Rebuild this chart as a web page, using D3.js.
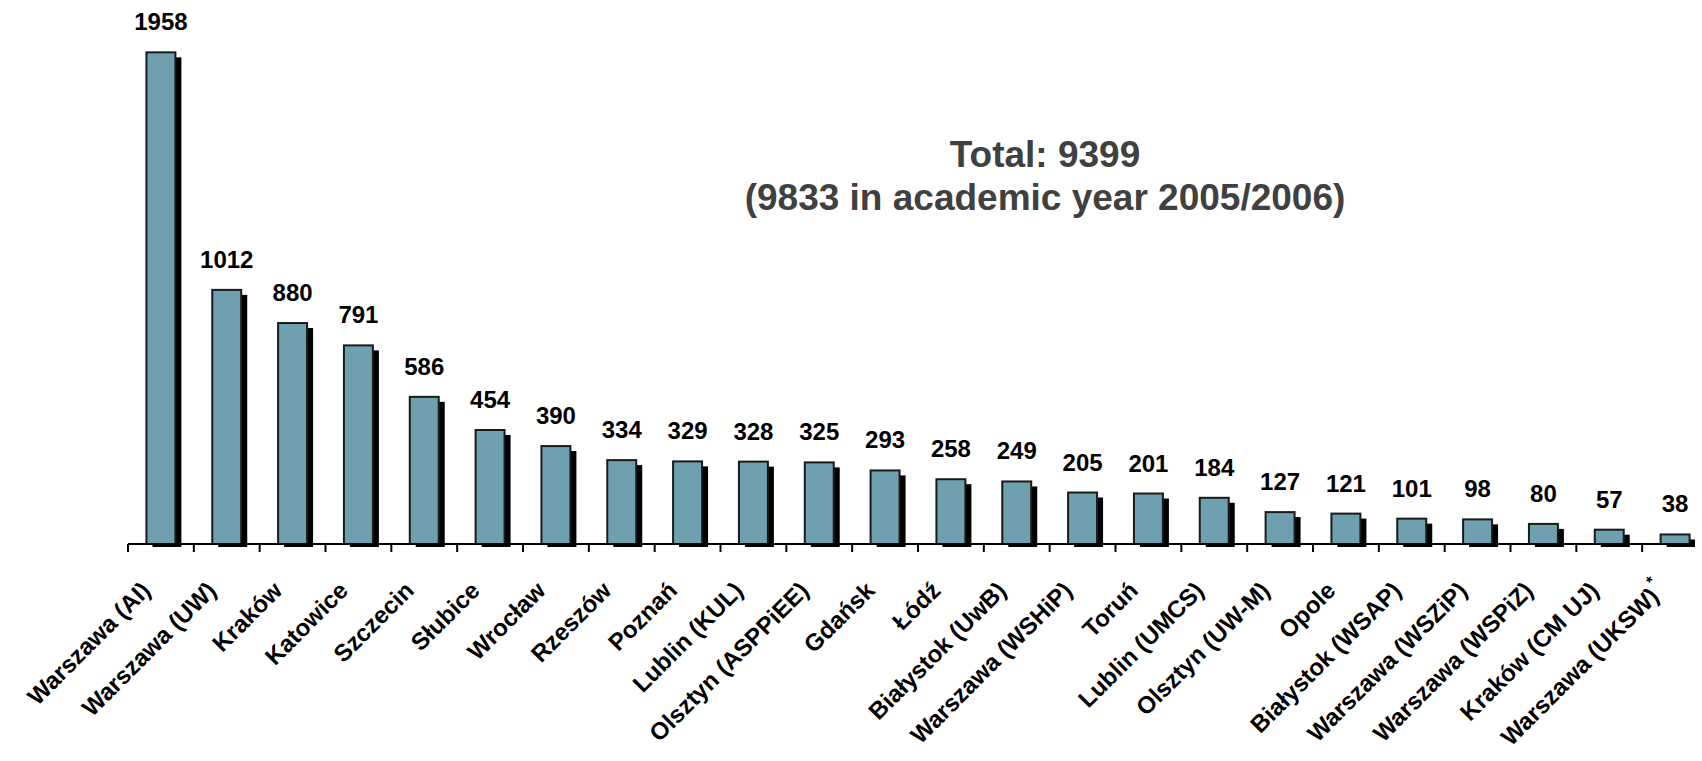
<!DOCTYPE html>
<html>
<head>
<meta charset="utf-8">
<script src="https://cdn.jsdelivr.net/npm/d3@7/dist/d3.min.js"></script>
<style>
  html, body { margin: 0; padding: 0; background: #ffffff; }
  svg { display: block; }
</style>
</head>
<body>
<script>
const categories = [
  "Warszawa (AI)", "Warszawa (UW)", "Kraków", "Katowice", "Szczecin", "Słubice",
  "Wrocław", "Rzeszów", "Poznań", "Lublin (KUL)", "Olsztyn (ASPPiEE)", "Gdańsk",
  "Łódź", "Białystok (UwB)", "Warszawa (WSHiP)", "Toruń", "Lublin (UMCS)",
  "Olsztyn (UW-M)", "Opole", "Białystok (WSAP)", "Warszawa (WSZiP)",
  "Warszawa (WSPiZ)", "Kraków (CM UJ)", "Warszawa (UKSW)"
];
const values = [1958, 1012, 880, 791, 586, 454, 390, 334, 329, 328, 325, 293,
  258, 249, 205, 201, 184, 127, 121, 101, 98, 80, 57, 38];
const notes = ["", "", "", "", "", "", "", "", "", "", "", "", "", "", "", "", "",
  "", "", "", "", "", "", "*"];
const titleLines = ["Total: 9399", "(9833 in academic year 2005/2006)"];
const yDomain = [0, 2000];

const W = 1702, H = 761;
const axisY = 544;
const left = 128, right = 1708;

const svg = d3.select("body").append("svg")
  .attr("width", W).attr("height", H)
  .style("font-family", "'Liberation Sans', Arial, Helvetica, sans-serif");

svg.append("defs").append("clipPath").attr("id", "plotclip")
  .append("rect").attr("x", 0).attr("y", 0).attr("width", 1695).attr("height", H);

const x = d3.scaleBand().domain(categories).range([left, right])
  .paddingInner(0.56).paddingOuter(0.28);
const y = d3.scaleLinear().domain(yDomain).range([axisY, axisY - 2000 * 0.2511]);

const data = categories.map((c, i) => ({ c, v: values[i], note: notes[i] }));
const plot = svg.append("g").attr("clip-path", "url(#plotclip)");

// shadows
plot.selectAll("rect.shadow").data(data).enter().append("rect")
  .attr("class", "shadow")
  .attr("x", d => x(d.c) + 6)
  .attr("y", d => y(d.v) + 5)
  .attr("width", x.bandwidth())
  .attr("height", d => y(0) - y(d.v) - 2)
  .attr("fill", "#000");

// bars
plot.selectAll("rect.bar").data(data).enter().append("rect")
  .attr("class", "bar")
  .attr("x", d => x(d.c))
  .attr("y", d => y(d.v))
  .attr("width", x.bandwidth())
  .attr("height", d => y(0) - y(d.v))
  .attr("fill", "#6fa0af")
  .attr("stroke", "#1a1a1a")
  .attr("stroke-width", 2);

// axis line + ticks at category boundaries
const boundaries = categories.map(c => x(c) - x.step() * x.paddingInner() / 2);
const axisG = plot.append("g");
axisG.append("line")
  .attr("x1", x.range()[0]).attr("x2", x.range()[1])
  .attr("y1", y(0)).attr("y2", y(0))
  .attr("stroke", "#000").attr("stroke-width", 2);
axisG.selectAll("line.tick").data(boundaries).enter().append("line")
  .attr("class", "tick")
  .attr("x1", d => d).attr("x2", d => d)
  .attr("y1", y(0)).attr("y2", y(0) + 8)
  .attr("stroke", "#000").attr("stroke-width", 2);

// value labels
svg.selectAll("text.val").data(data).enter().append("text")
  .attr("class", "val")
  .attr("x", d => x(d.c) + x.bandwidth() / 2)
  .attr("y", d => y(d.v) - 22)
  .attr("text-anchor", "middle")
  .attr("font-size", 24).attr("font-weight", "bold").attr("fill", "#000")
  .text(d => d.v);

// category labels
const lab = svg.selectAll("text.cat").data(data).enter().append("text")
  .attr("class", "cat")
  .attr("transform", d => `translate(${x(d.c) + x.bandwidth() / 2 - 9},${y(0) + 48}) rotate(-45)`)
  .attr("text-anchor", "end")
  .attr("font-size", 24).attr("font-weight", "bold").attr("fill", "#000");
lab.append("tspan").text(d => d.c);
lab.filter(d => d.note).append("tspan")
  .attr("dx", 2).attr("dy", -13).attr("font-size", 16)
  .text(d => d.note);

// title
const tg = svg.append("g").attr("fill", "#404040")
  .attr("font-weight", "bold").attr("font-size", 37);
tg.append("text").attr("x", 1045).attr("y", 167).attr("text-anchor", "middle")
  .text(titleLines[0]);
tg.append("text").attr("x", 1045).attr("y", 210).attr("text-anchor", "middle")
  .text(titleLines[1]);
</script>
</body>
</html>
